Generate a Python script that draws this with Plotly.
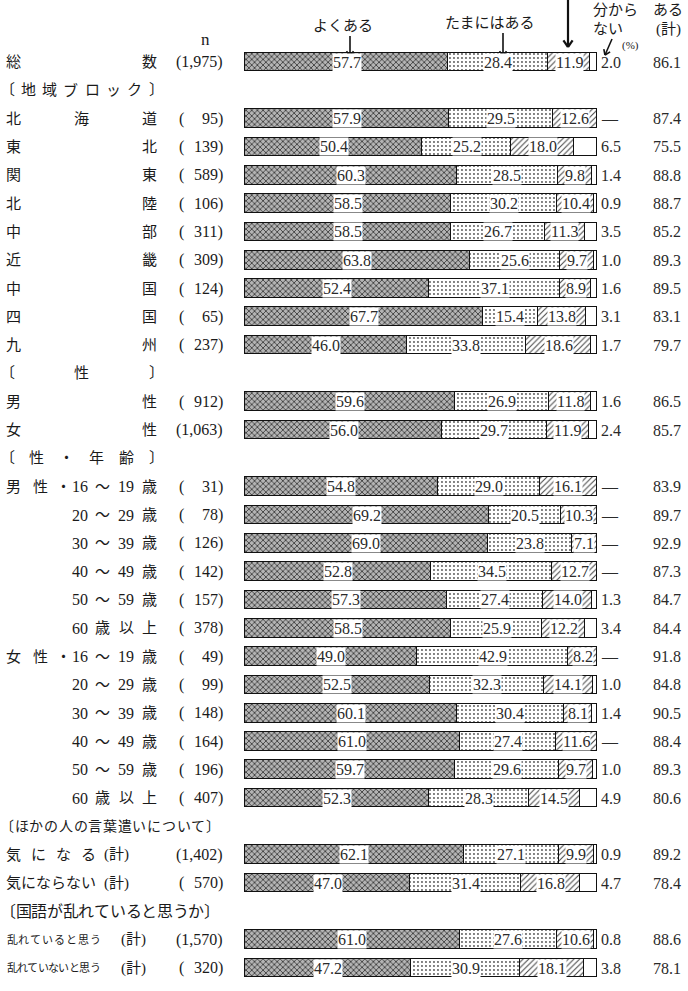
import re
import plotly.graph_objects as go

W, H = 688, 991

# ---------------- data ----------------
row_labels = [
    "総数", "〔地域ブロック〕",
    "北海道", "東北", "関東", "北陸", "中部", "近畿", "中国", "四国", "九州",
    "〔性〕", "男性", "女性",
    "〔性・年齢〕",
    "男性・16～19歳", "20～29歳", "30～39歳", "40～49歳", "50～59歳", "60歳以上",
    "女性・16～19歳", "20～29歳", "30～39歳", "40～49歳", "50～59歳", "60歳以上",
    "〔ほかの人の言葉遣いについて〕", "気になる（計）", "気にならない（計）",
    "〔国語が乱れていると思うか〕", "乱れていると思う（計）", "乱れていないと思う（計）",
]
row_n = [
    "1,975", None,
    "95", "139", "589", "106", "311", "309", "124", "65", "237",
    None, "912", "1,063",
    None,
    "31", "78", "126", "142", "157", "378",
    "49", "99", "148", "164", "196", "407",
    None, "1,402", "570",
    None, "1,570", "320",
]
yoku_aru = [
    57.7, None,
    57.9, 50.4, 60.3, 58.5, 58.5, 63.8, 52.4, 67.7, 46.0,
    None, 59.6, 56.0,
    None,
    54.8, 69.2, 69.0, 52.8, 57.3, 58.5,
    49.0, 52.5, 60.1, 61.0, 59.7, 52.3,
    None, 62.1, 47.0,
    None, 61.0, 47.2,
]
tamani_aru = [
    28.4, None,
    29.5, 25.2, 28.5, 30.2, 26.7, 25.6, 37.1, 15.4, 33.8,
    None, 26.9, 29.7,
    None,
    29.0, 20.5, 23.8, 34.5, 27.4, 25.9,
    42.9, 32.3, 30.4, 27.4, 29.6, 28.3,
    None, 27.1, 31.4,
    None, 27.6, 30.9,
]
amari_nai = [
    11.9, None,
    12.6, 18.0, 9.8, 10.4, 11.3, 9.7, 8.9, 13.8, 18.6,
    None, 11.8, 11.9,
    None,
    16.1, 10.3, 7.1, 12.7, 14.0, 12.2,
    8.2, 14.1, 8.1, 11.6, 9.7, 14.5,
    None, 9.9, 16.8,
    None, 10.6, 18.1,
]
wakaranai = [  # "—" = 0
    2.0, None,
    0.0, 6.5, 1.4, 0.9, 3.5, 1.0, 1.6, 3.1, 1.7,
    None, 1.6, 2.4,
    None,
    0.0, 0.0, 0.0, 0.0, 1.3, 3.4,
    0.0, 1.0, 1.4, 0.0, 1.0, 4.9,
    None, 0.9, 4.7,
    None, 0.8, 3.8,
]
aru_kei = [
    86.1, None,
    87.4, 75.5, 88.8, 88.7, 85.2, 89.3, 89.5, 83.1, 79.7,
    None, 86.5, 85.7,
    None,
    83.9, 89.7, 92.9, 87.3, 84.7, 84.4,
    91.8, 84.8, 90.5, 88.4, 89.3, 80.6,
    None, 89.2, 78.4,
    None, 88.6, 78.1,
]
series_names = ["よくある", "たまにはある", "あまりない", "分からない"]

# ---------------- geometry helpers ----------------
BAR_X0, BAR_X1 = 245.0, 597.0          # pixel position of 0% and 100%
ROW_Y0, ROW_DY = 62.0, 28.3125         # pixel centre of row 0 and row pitch
span = 100.0 * W / (BAR_X1 - BAR_X0)
xa = -BAR_X0 / W * span
xb = xa + span
ya = -ROW_Y0 / ROW_DY
yb = (H - ROW_Y0) / ROW_DY

JP = "Liberation Serif, Noto Sans CJK JP"
TXT = "#1a1a1a"
NUM = "#2a2a2a"

def px(x):
    return x / W

def py(y):
    return 1 - y / H

def row_py(i):
    return ROW_Y0 + i * ROW_DY

annotations = []
shapes = []

def text_at(x, y, t, size=15, anchor="center", color=TXT, family=JP):
    annotations.append(dict(
        x=px(x), y=py(y), xref="paper", yref="paper", text=t, showarrow=False,
        xanchor=anchor, yanchor="middle", font=dict(size=size, color=color, family=family),
    ))

def spread(chars, x0, x1, y, size=15):
    n = len(chars)
    for k, c in enumerate(chars):
        x = x0 if n == 1 else x0 + (x1 - x0) * k / (n - 1)
        text_at(x, y, c, size=size)

def arrow(x0, y0, x1, y1, w=1.6, head=6):
    import math
    shapes.append(dict(type="line", xref="paper", yref="paper",
                       x0=px(x0), y0=py(y0), x1=px(x1), y1=py(y1),
                       line=dict(color="#111", width=w)))
    ang = math.atan2(y1 - y0, x1 - x0)
    for d in (math.radians(145), -math.radians(145)):
        hx = x1 + head * math.cos(ang + d)
        hy = y1 + head * math.sin(ang + d)
        shapes.append(dict(type="line", xref="paper", yref="paper",
                           x0=px(x1), y0=py(y1), x1=px(hx), y1=py(hy),
                           line=dict(color="#111", width=w)))

# ---------------- bars ----------------
data_rows = [i for i, v in enumerate(yoku_aru) if v is not None]
series = [yoku_aru, tamani_aru, amari_nai, wakaranai]
styles = [
    dict(bg="#b4b4b4", fg="#404040", shape="x", size=4, solidity=0.4),
    dict(bg="white", fg="#555555", shape=".", size=4, solidity=0.18),
    dict(bg="white", fg="#444444", shape="/", size=4, solidity=0.25),
    None,
]

fig = go.Figure()
for name, vals, st in zip(series_names, series, styles):
    marker = dict(color="white", line=dict(color="#111", width=1.3))
    if st:
        marker["color"] = st["bg"]
        marker["pattern"] = dict(shape=st["shape"], fgcolor=st["fg"], bgcolor=st["bg"],
                                 size=st["size"], solidity=st["solidity"], fillmode="replace")
    fig.add_trace(go.Bar(
        name=name, orientation="h",
        y=[i for i in data_rows], x=[vals[i] for i in data_rows],
        width=0.66, marker=marker, showlegend=False, hoverinfo="skip",
    ))

# value labels inside segments
for i in data_rows:
    base = 0.0
    for vals in (yoku_aru, tamani_aru, amari_nai):
        v = vals[i]
        annotations.append(dict(
            x=base + v / 2, y=i, xref="x", yref="y", text=f"{v:.1f}", showarrow=False,
            bgcolor="white", borderpad=0, xanchor="center", yanchor="middle",
            font=dict(size=16, color=NUM, family=JP),
        ))
        base += v
    # 分からない column
    w = wakaranai[i]
    text_at(599, row_py(i), "—" if w == 0 else f"{w:.1f}", size=16, anchor="left", color=NUM)
    # ある（計）
    text_at(683, row_py(i), f"{aru_kei[i]:.1f}", size=16, anchor="right", color=NUM)
    # n column
    if "," in row_n[i]:
        text_at(225, row_py(i), "(" + row_n[i] + ")", size=16, anchor="right")
    else:
        text_at(177, row_py(i), "(", size=16, anchor="left")
        text_at(225, row_py(i), row_n[i] + ")", size=16, anchor="right")

# ---------------- row labels ----------------
for i, lab in enumerate(row_labels):
    y = row_py(i)
    if lab.startswith("〔"):
        if "ほか" in lab:
            spread(list(lab), 7, 213, y, size=14)
        elif "国語" in lab:
            spread(list(lab), 8, 212, y, size=16)
        else:
            spread(list(lab), 7, 156, y, size=15)
    elif lab.endswith("（計）"):
        main = lab[:-3]
        if main.startswith("乱れ"):
            spread(list(main), 12, 95, y, size=11)
            text_at(133, y, "(計)", size=15)
        else:
            spread(list(main), 13, 88, y, size=15)
            text_at(116, y, "(計)", size=15)
    elif re.search(r"\d|以上", lab):
        rest = lab
        if "・" in lab:
            pre, rest = lab.split("・")
            for c, x in zip(list(pre) + ["・"], [13, 40, 63]):
                text_at(x, y, c, size=15)
        toks = re.findall(r"\d+|.", rest)
        for t, x in zip(toks, [80, 102, 126, 149]):
            text_at(x, y, t, size=16 if t.isdigit() else 15)
    else:
        spread(list(lab), 13, 149, y, size=15)

# ---------------- header ----------------
text_at(206, 40, "n", size=17)
text_at(343, 26, "よくある", size=15)
arrow(350, 36, 350, 56)
text_at(490, 23, "たまにはある", size=15)
arrow(503, 33, 503, 56)
arrow(568, -2, 568, 47, w=2.2, head=8)
text_at(591, 10, "分から", size=15, anchor="left")
text_at(591, 29, "ない", size=15, anchor="left")
arrow(612, 39, 605, 55)
text_at(630, 46, "(%)", size=11)
text_at(668, 10, "ある", size=15)
text_at(668, 29, "(計)", size=15)

fig.update_layout(
    width=W, height=H, autosize=False,
    margin=dict(l=0, r=0, t=0, b=0),
    paper_bgcolor="white", plot_bgcolor="white",
    barmode="stack", bargap=0,
    xaxis=dict(range=[xa, xb], visible=False, fixedrange=True),
    yaxis=dict(range=[yb, ya], visible=False, fixedrange=True),
    annotations=annotations, shapes=shapes,
)

fig.write_html("out.html")
